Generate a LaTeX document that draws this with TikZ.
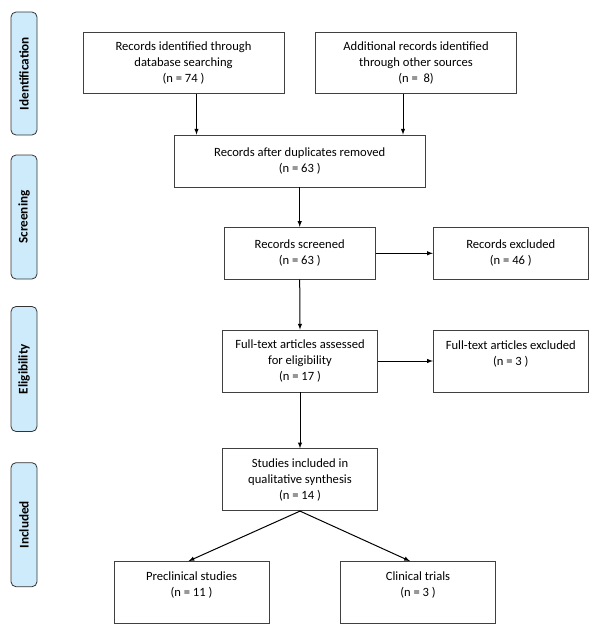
\documentclass[tikz,border=0pt]{standalone}
\usepackage{fontspec}
\setmainfont{Carlito}
\usetikzlibrary{calc,positioning,arrows,shapes}

\definecolor{phaseblue}{HTML}{CDEBFB}

\begin{document}
\begin{tikzpicture}[
x=1pt,y=-1pt,
>=latex,
box/.style={
	draw=black!75,
	line width=0.8pt,
	rectangle,
	align=center,
	inner sep=2pt,
	font=\fontsize{12.6}{16}\selectfont
},
phase/.style={
	draw=black!80,
	fill=phaseblue,
	line width=0.8pt,
	rounded corners=5pt,
	rotate=90,
	minimum height=26pt,
	font=\fontsize{13.2}{14}\selectfont\bfseries
},
flow/.style={
	->,
	line width=1pt
}
]
\useasboundingbox (0,0) rectangle (600,635);

% phases on the left
\foreach \y/\h/\l in {73.5/123/Identification,217/124/Screening,369/125/Eligibility,524.7/124/Included}
\node[phase,minimum width=\h] (p\l) at (24,\y) {\l};

% identification
\node[box,minimum width=201,minimum height=61] (idA) at (183.5,62.7)
	{Records identified through\\database searching\\(n = 74 )};
\node[box,minimum width=201,minimum height=61] (idB) at (416,62.7)
	{Additional records identified\\through other sources\\(n =\ \ 8)};

% screening
\node[box,minimum width=251,minimum height=52] (dupl) at (299.7,161)
	{Records after duplicates removed\\(n = 63 )};
\node[box,minimum width=151,minimum height=52] (scr) at (299.7,253.3)
	{Records screened\\(n = 63 )};
\node[box,minimum width=155,minimum height=52] (scrx) at (510.8,253.3)
	{Records excluded\\(n = 46 )};

% eligibility
\node[box,minimum width=155,minimum height=62] (full) at (300,361)
	{Full-text articles assessed\\for eligibility\\(n = 17 )};
\node[box,minimum width=155,minimum height=62] (fullx) at (510.8,361)
	{Full-text articles excluded\\(n = 3 )\\~};

% included
\node[box,minimum width=155,minimum height=62] (incl) at (300,479.7)
	{Studies included in\\qualitative synthesis\\(n = 14 )};
\node[box,minimum width=155,minimum height=62] (pre) at (191.5,592.5)
	{Preclinical studies\\(n = 11 )\\~};
\node[box,minimum width=155,minimum height=62] (cli) at (418,592.5)
	{Clinical trials\\(n = 3 )\\~};

\draw[flow] ([xshift=13]idA.south) -- ([xshift=13]idA.south |- dupl.north);
\draw[flow] ([xshift=-13]idB.south) -- ([xshift=-13]idB.south |- dupl.north);
\draw[flow] (dupl.south) -- (scr.north);
\draw[flow] (scr.east) -- (scrx.west);
\draw[flow] (scr.south) -- (full.north);
\draw[flow] (full.east) -- (fullx.west);
\draw[flow] (full.south) -- (incl.north);
\draw[flow] (incl.south) -- ([xshift=-3]pre.north);
\draw[flow] (incl.south) -- ([xshift=-8]cli.north);
\end{tikzpicture}
\end{document}
